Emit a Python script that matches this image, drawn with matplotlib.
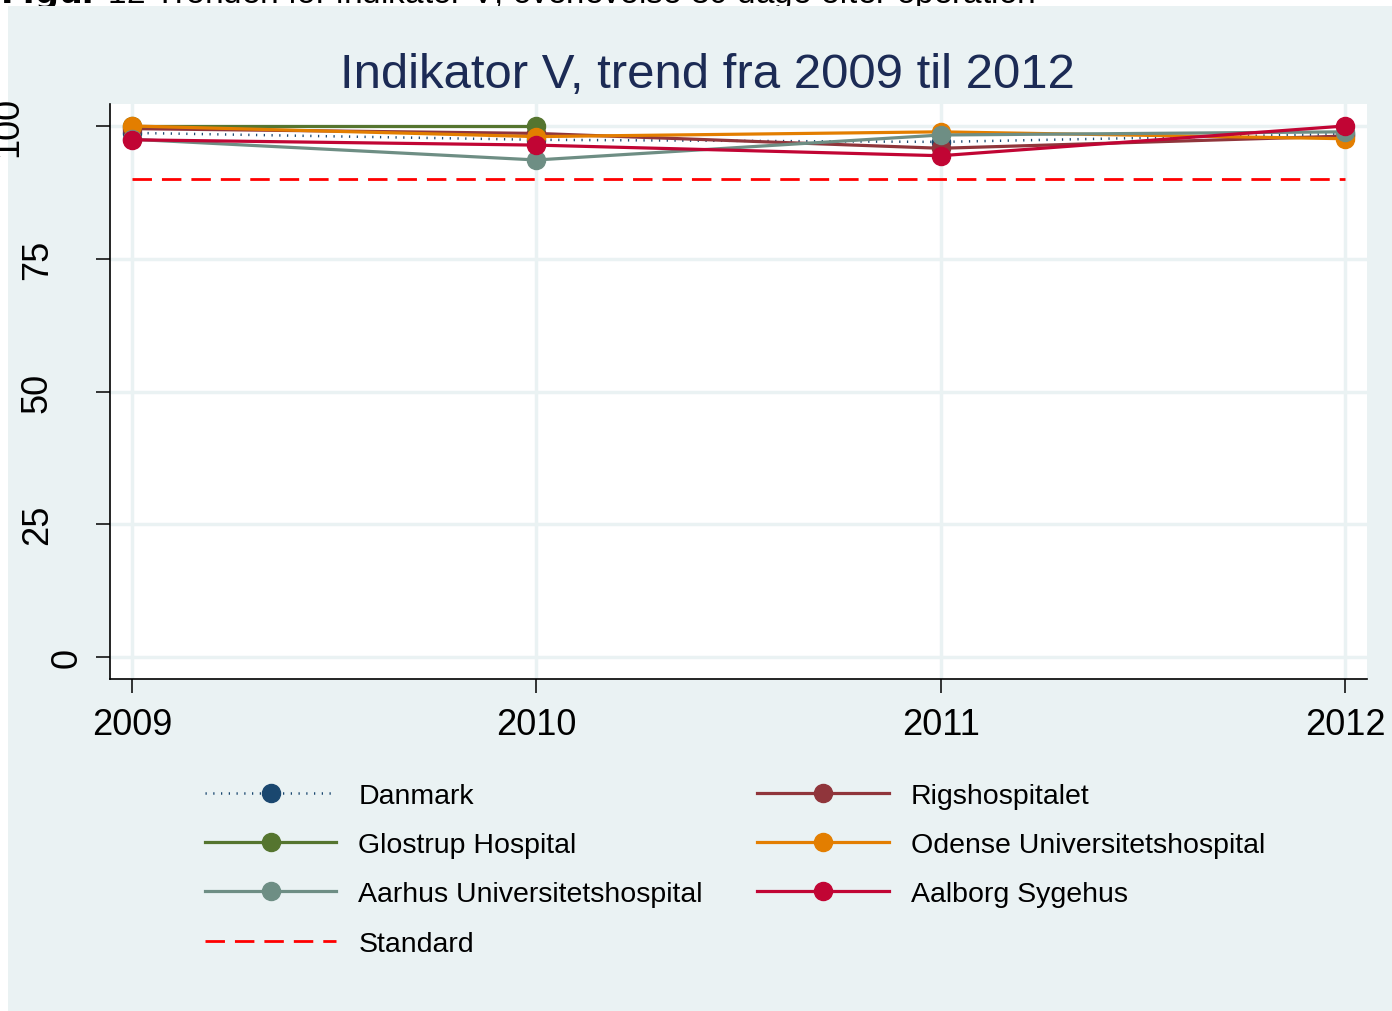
import numpy as np
import matplotlib
matplotlib.use("Agg")
import matplotlib.pyplot as plt
from matplotlib.patches import Rectangle
from matplotlib.lines import Line2D

plt.rcParams['font.family'] = ['Liberation Sans', 'DejaVu Sans']

# data
years = [2009, 2010, 2011, 2012]
danmark = [98.7, 97.4, 97.0, 98.5]
rigshospitalet = [99.5, 98.6, 95.8, 98.1]
glostrup = [100.0, 100.0, np.nan, np.nan]
odense = [100.0, 98.0, 98.9, 97.6]
aarhus = [97.5, 93.6, 98.3, 98.9]
aalborg = [97.4, 96.4, 94.4, 100.0]
standard = [90, 90, 90, 90]
yticks = [0, 25, 50, 75, 100]

bg = '#eaf2f3'
W, H = 1392, 1012
fig = plt.figure(figsize=(W / 100, H / 100), dpi=100, facecolor='white')
fig.patches.append(Rectangle((8 / W, 0), 1 - 8 / W, 1 - 7 / H, transform=fig.transFigure,
                             facecolor=bg, edgecolor='none', zorder=-10))
# caption cut off at the top edge (the chart panel covers the rest)
fig.text(0.0, 1 - 3 / H, r"$\bf{Figur}$ 12 Trenden for indikator V, overlevelse 30 dage efter operation",
         fontsize=24, va='baseline', ha='left', color='black', zorder=-20)

ax = fig.add_axes([110 / W, 1 - 680 / H, (1367 - 110) / W, (680 - 105) / H])
ax.set_facecolor('white')

ms = 13
lw = 2.3
ax.plot(years, danmark, color='#1a476f', lw=1.8, ls=(0, (0.5, 2.6)), marker='o', ms=ms, zorder=3)
ax.plot(years, rigshospitalet, color='#90353b', lw=lw, marker='o', ms=ms, zorder=3)
ax.plot(years, glostrup, color='#55752f', lw=lw, marker='o', ms=ms, zorder=3)
ax.plot(years, odense, color='#e37e00', lw=lw, marker='o', ms=ms, zorder=3)
ax.plot(years, aarhus, color='#6e8e84', lw=lw, marker='o', ms=ms, zorder=3)
ax.plot(years, aalborg, color='#c10534', lw=lw, marker='o', ms=ms, zorder=3)
ax.plot(years, standard, color='#ff0000', lw=2, ls=(0, (7, 3.6)), zorder=3)

ax.set_xlim(2009 - 0.0544, 2012 + 0.0544)
ax.set_ylim(-4.14, 104.14)
ax.set_xticks(years)
ax.set_xticklabels([str(y) for y in years], fontsize=26)
ax.set_yticks(yticks)
ax.set_yticklabels([])
ax.grid(True, color=bg, lw=2.5, zorder=0)
ax.set_axisbelow(True)
for s in ['top', 'right']:
    ax.spines[s].set_visible(False)
for s in ['left', 'bottom']:
    ax.spines[s].set_linewidth(1.2)
ax.tick_params(axis='both', length=10, width=1.1, color='black', direction='out')
ax.tick_params(axis='x', pad=10)

# rotated y labels, placed like the original (Stata) layout
for v in yticks:
    lab = str(v)
    off = 25 + 30 * (len(lab) - 1)
    ax.annotate(lab, xy=(0, v), xycoords=ax.get_yaxis_transform(),
                xytext=(-off * 0.72, 0), textcoords='offset points',
                rotation=90, ha='right', va='center', fontsize=26, annotation_clip=False)

fig.text(707 / W, 1 - 75 / H, "Indikator V, trend fra 2009 til 2012", fontsize=35.4,
         color='#1c2b55', ha='center', va='center')

def h(color, ls='-', lw_=lw, marker='o'):
    return Line2D([], [], color=color, ls=ls, lw=lw_, marker=marker, ms=ms)

handles = [h('#1a476f', (0, (0.5, 2.6)), 1.8), h('#55752f'), h('#6e8e84'),
           h('#ff0000', (0, (7, 3.6)), 2, None),
           h('#90353b'), h('#e37e00'), h('#c10534')]
labels = ['Danmark', 'Glostrup Hospital', 'Aarhus Universitetshospital', 'Standard',
          'Rigshospitalet', 'Odense Universitetshospital', 'Aalborg Sygehus']
fig.legend(handles, labels, ncol=2, loc='upper left', bbox_to_anchor=(179 / W, 1 - 758 / H),
           frameon=False, fontsize=20.5, handlelength=4.63, handletextpad=0.77,
           columnspacing=1.9, labelspacing=0.82)

fig.savefig('out.png', dpi=100, facecolor='white')
